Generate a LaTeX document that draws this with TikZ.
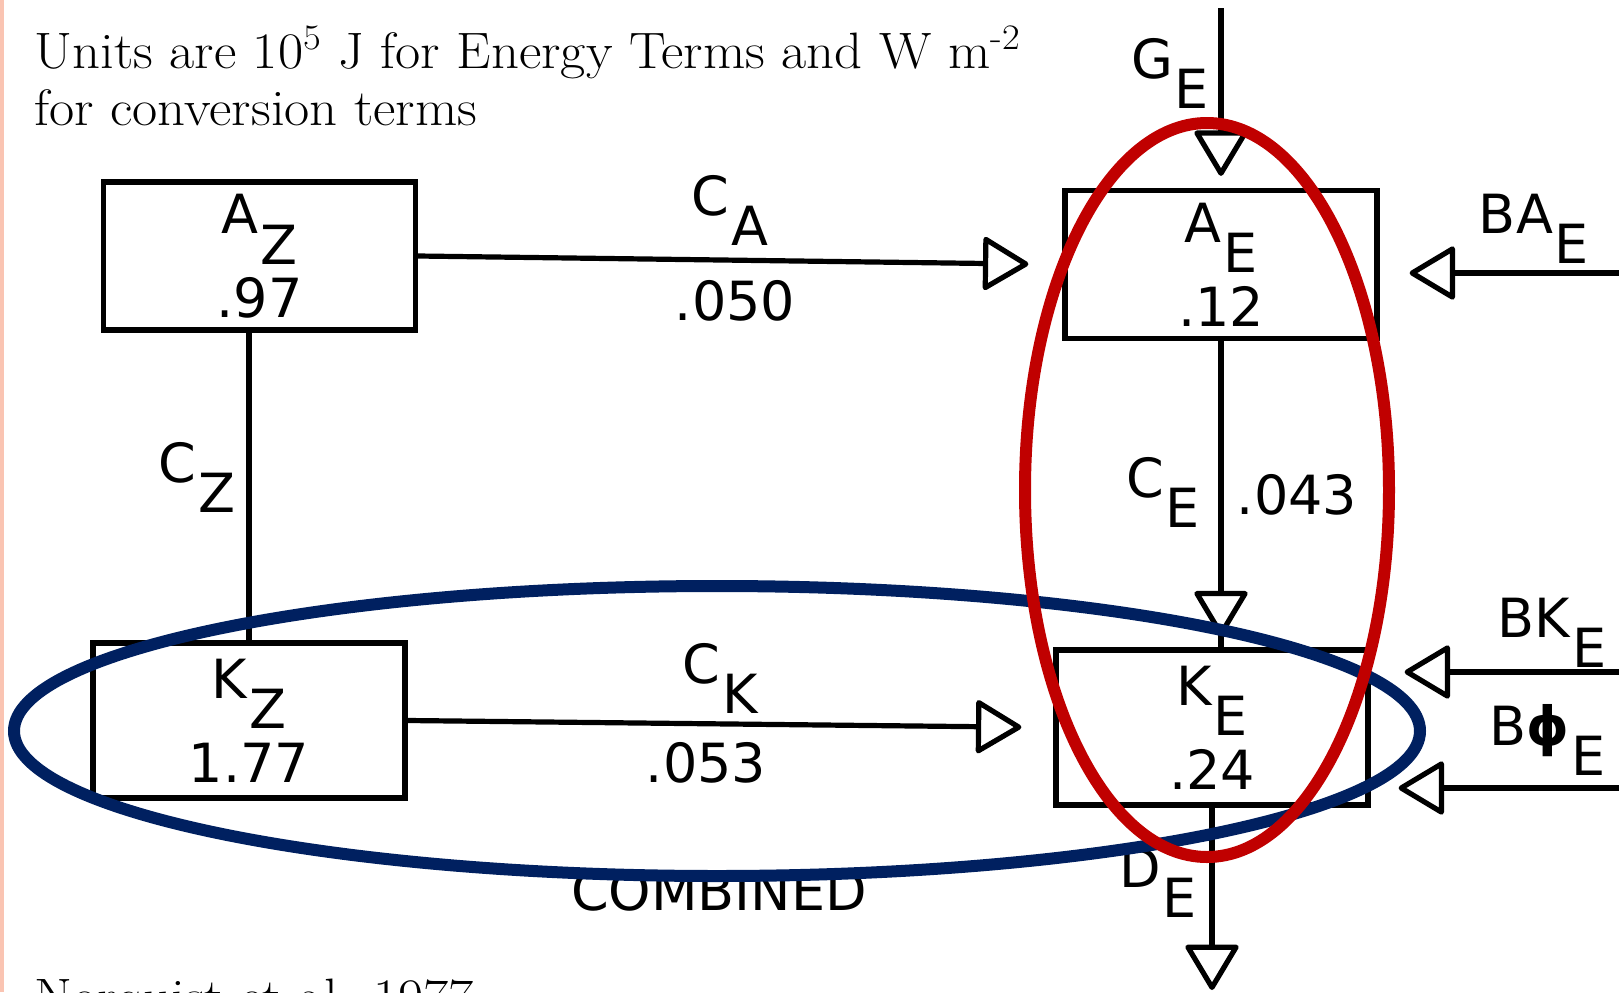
\documentclass[tikz,border=0pt]{standalone}
\usepackage{fontspec}
\usepackage{tikz}
\usetikzlibrary{arrows.meta,positioning,shapes.geometric}

\newfontfamily\drawfont{DejaVu Sans}
\newfontfamily\notefont[FakeStretch=1.07]{Latin Modern Roman}
\definecolor{ringred}{HTML}{C00000}
\definecolor{ringblue}{HTML}{002060}
\definecolor{edgepink}{RGB}{250,196,178}
\newcommand{\lsub}[2]{#1\kern1pt\raisebox{-0.57em}{#2}}

\begin{document}
\begin{tikzpicture}[
    x=0.5pt, y=-0.5pt,
    box/.style={rectangle, draw, line width=2.6pt, minimum width=156pt, minimum height=74pt, align=center, inner sep=0pt, font=\drawfont\fontsize{27}{42}\selectfont},
    lbl/.style={inner sep=0pt, anchor=base, font=\drawfont\fontsize{27}{32}\selectfont},
    note/.style={inner sep=0pt, anchor=base west, font=\notefont\fontsize{25.6}{28.5}\selectfont},
    flow/.style={-{Triangle[length=24pt, width=28pt, fill=white, round]}, line width=2.6pt},
    link/.style={line width=2.6pt},
    ring/.style={ellipse, draw, line width=6pt, inner sep=0pt}
]
\useasboundingbox (0,0) rectangle (1619,992);
\clip (0,0) rectangle (1619,992);
\fill[edgepink] (0,0) rectangle (4,992);

% Notes
\node[note] (units) at (34,68) {Units are 10\textsuperscript{5} J for Energy Terms and W m\textsuperscript{-2}};
\node[note] (conv) at (34,125) {for conversion terms};
\node[note] (cite) at (34,1014) {Norquist et al. 1977};

% Energy boxes
\node[box] (AZ) at (259.5,256) {\lsub{A}{Z}\\.97};
\node[box] (AE) at (1221,264.5) {\lsub{A}{E}\\.12};
\node[box, minimum height=77.5pt] (KZ) at (249,720.5) {\lsub{K}{Z}\\1.77};
\node[box, minimum height=77.5pt] (KE) at (1212,727.5) {\lsub{K}{E}\\.24};

% Boundary ends
\coordinate (ge) at (1221,8);
\coordinate (de) at (1212,990);
\coordinate (bae) at (1619,273);
\coordinate (bke) at (1619,672);
\coordinate (bpe) at (1619,788);

% Conversions
\draw[flow, shorten >=17pt] (AZ.east) -- (AE.west);
\draw[flow, shorten >=16pt] (KZ.east) -- (KE.west);
\draw[link] (KZ.north) -- (KZ.north |- AZ.south);
\draw[link] (AE.south) -- (AE.south |- KE.north);
\draw[flow, shorten >=5.5pt] (AE.south) -- (AE.south |- KE.north);

% Generation, dissipation, boundary terms
\draw[flow, shorten >=6pt] (ge) -- (AE.north);
\draw[flow] (KE.south) -- (de);
\draw[flow, shorten >=15pt] (bae) -- (bae -| AE.east);
\draw[flow, shorten >=17pt] (bke) -- (bke -| KE.east);
\draw[flow, shorten >=14pt] (bpe) -- (bpe -| KE.east);

% Labels
\node[lbl] (ca) at (730,215) {\lsub{C}{A}};
\node[lbl] (cav) at (735,320) {.050};
\node[lbl] (ck) at (720,683) {\lsub{C}{K}};
\node[lbl] (ckv) at (706,782) {.053};
\node[lbl] (cz) at (197,482) {\lsub{C}{Z}};
\node[lbl] (ce) at (1163,497) {\lsub{C}{E}};
\node[lbl] (cev) at (1297,514) {.043};
\node[lbl] (gel) at (1170,78) {\lsub{G}{E}};
\node[lbl] (del) at (1158,887) {\lsub{D}{E}};
\node[lbl] (bael) at (1534,233) {\lsub{BA}{E}};
\node[lbl] (bkel) at (1552,637) {\lsub{BK}{E}};
\node[lbl] (bpel) at (1548,745) {\lsub{B{\bfseries ϕ}}{E}};
\node[lbl] (comb) at (719,910) {COMBINED};

% Highlight rings
\node[ring, draw=ringblue, minimum width=703pt, minimum height=145pt] (kring) at (717,731) {};
\node[ring, draw=ringred, minimum width=182pt, minimum height=367pt] (ering) at (1207,490) {};

\end{tikzpicture}
\end{document}
